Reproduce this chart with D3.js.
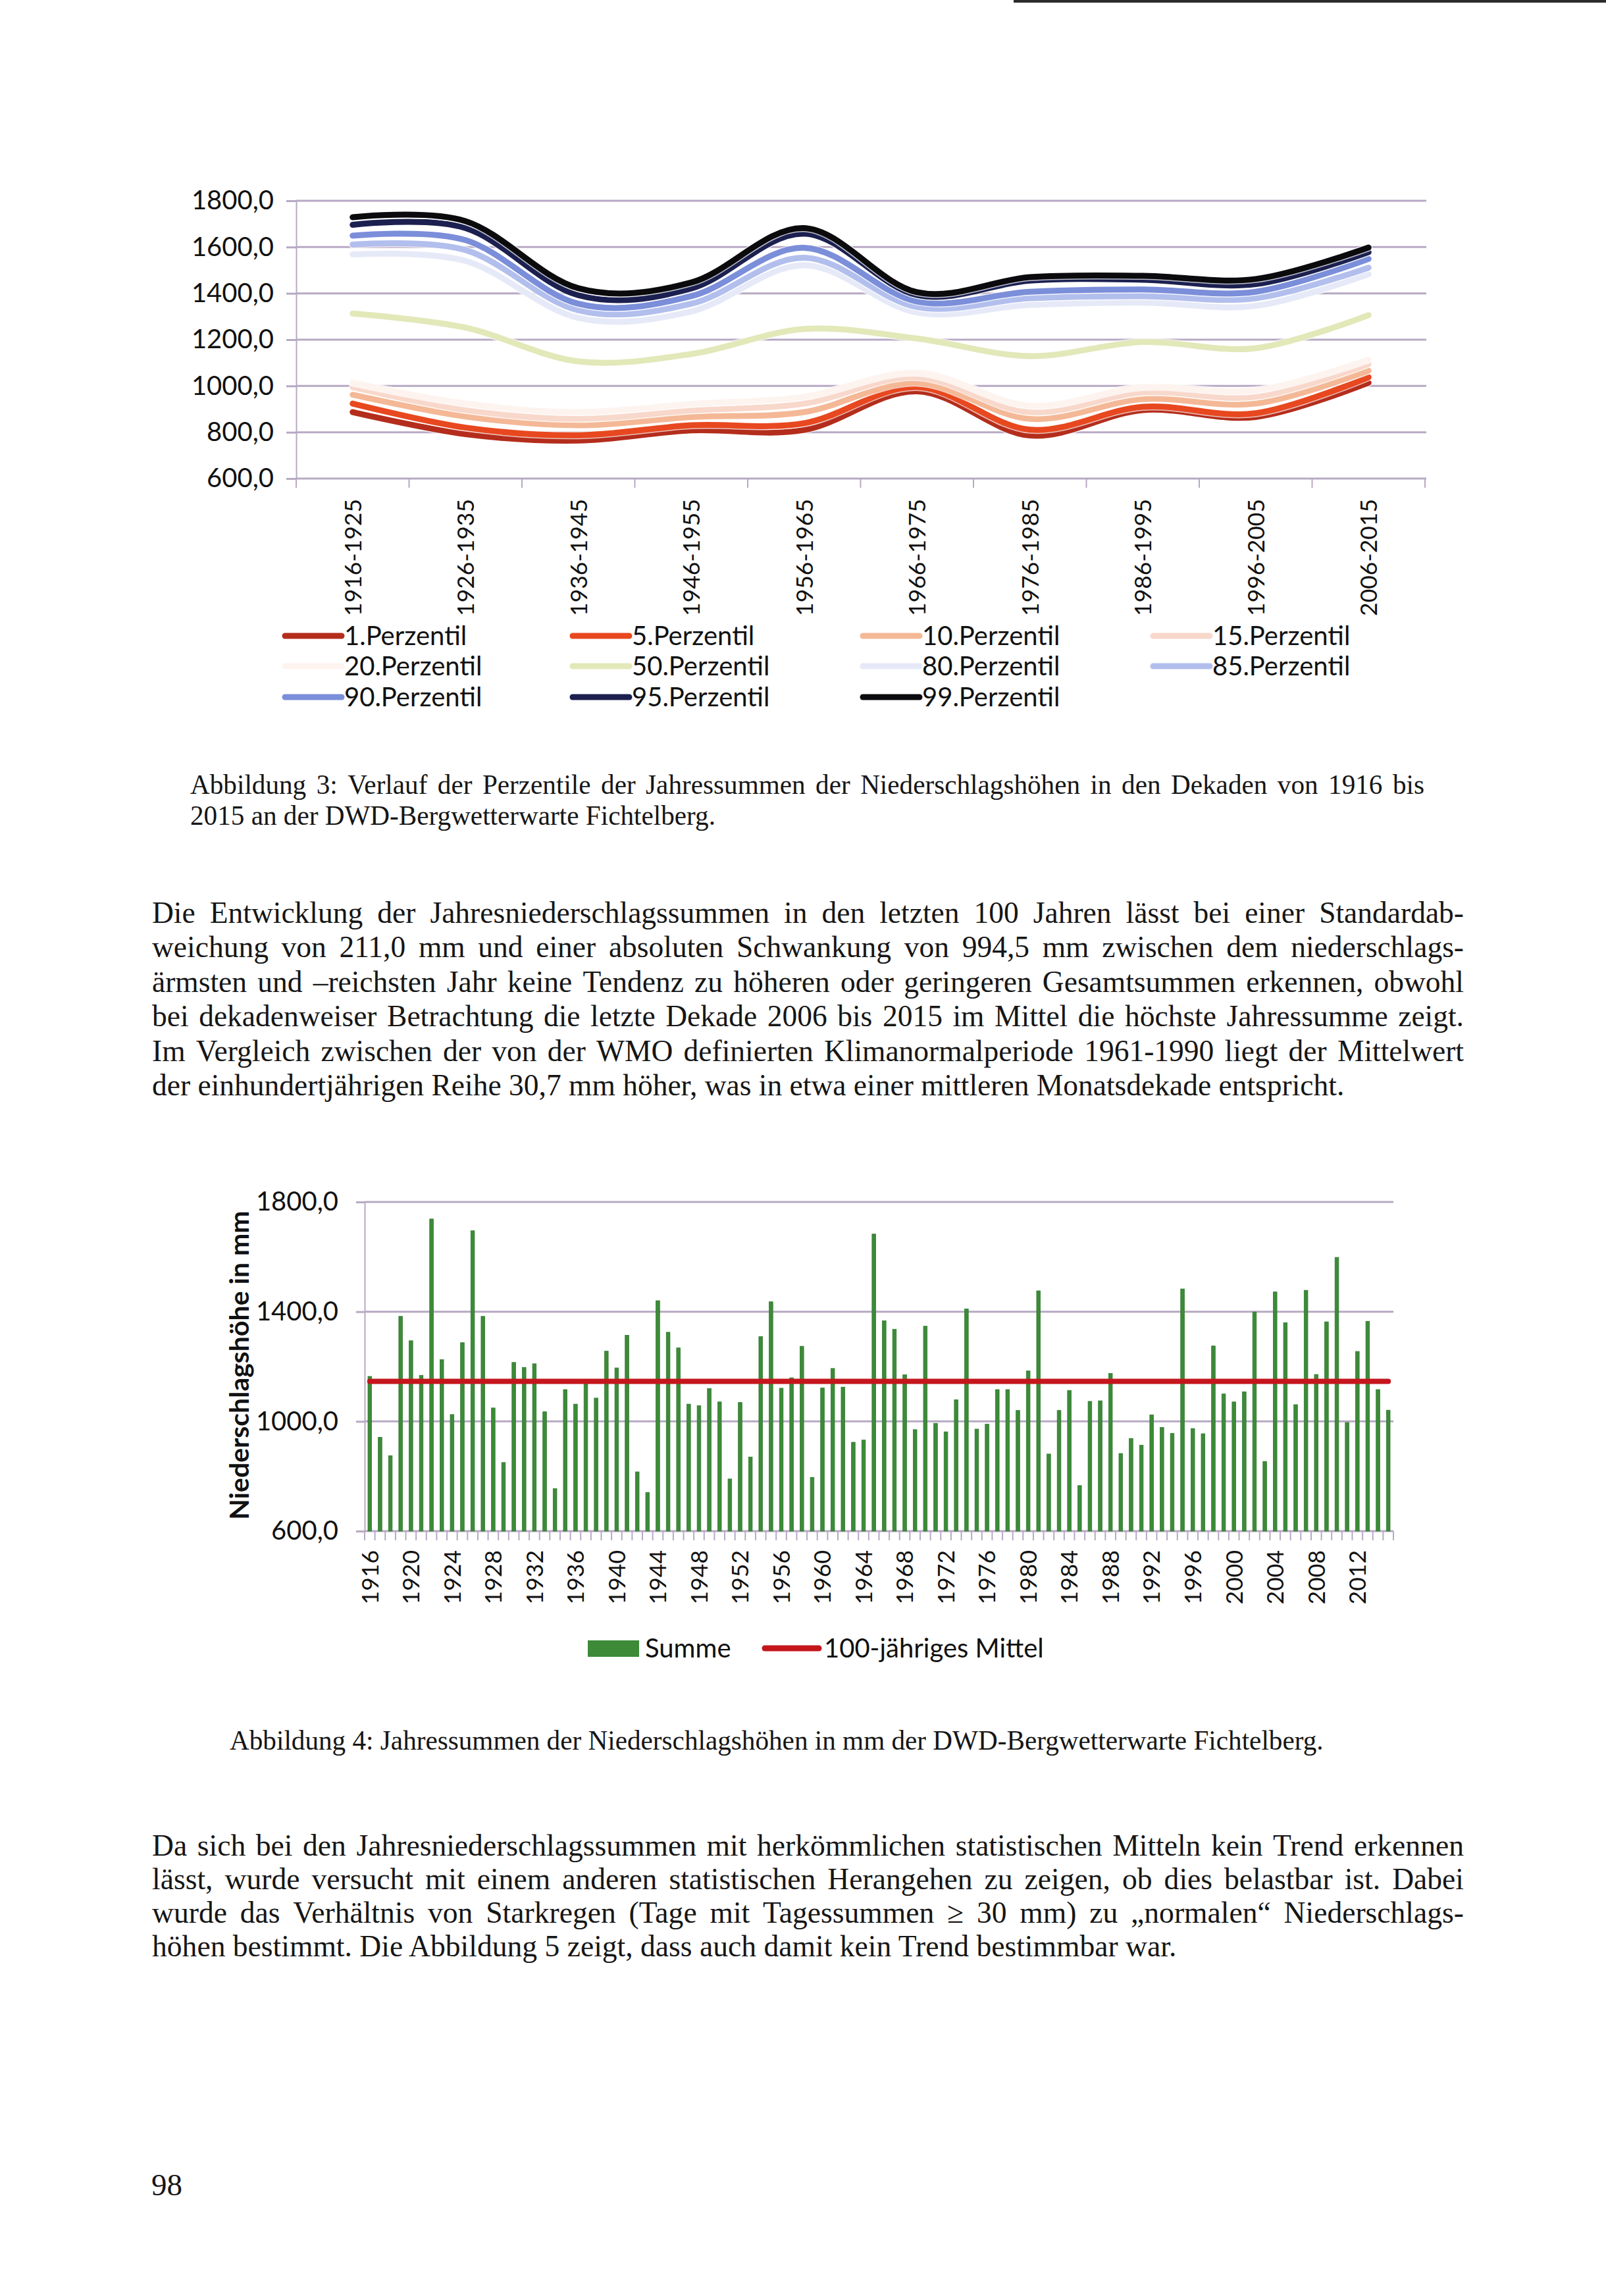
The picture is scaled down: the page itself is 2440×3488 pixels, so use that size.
<!DOCTYPE html>
<html><head><meta charset="utf-8">
<script src="https://cdn.jsdelivr.net/npm/d3@7"></script>
<style>
html,body{margin:0;padding:0;background:#fff;}
#page{position:relative;width:2440px;height:3488px;overflow:hidden;background:#fff;}
</style></head>
<body><div id="page"><svg id="c" width="2440" height="3488" style="position:absolute;left:0;top:0"></svg></div>
<script>
// ---------------- DATA ----------------
const decades = ["1916-1925","1926-1935","1936-1945","1946-1955","1956-1965","1966-1975","1976-1985","1986-1995","1996-2005","2006-2015"];
const p1  = [887, 792, 764, 808, 810, 977, 786, 896, 866, 1014];
const p5  = [924, 820, 787, 830, 839, 995, 811, 910, 882, 1038];
const p10 = [962, 868, 830, 866, 887, 1014, 858, 943, 924, 1066];
const p15 = [995, 896, 858, 894, 924, 1038, 887, 972, 953, 1095];
const p20 = [1014, 924, 887, 922, 953, 1057, 915, 995, 981, 1114];
const p50 = [1313, 1252, 1106, 1138, 1246, 1205, 1129, 1190, 1163, 1306];
const p80 = [1568, 1540, 1294, 1322, 1521, 1317, 1350, 1360, 1346, 1483];
const p85 = [1611, 1587, 1327, 1355, 1554, 1341, 1379, 1388, 1379, 1511];
const p90 = [1649, 1630, 1355, 1388, 1597, 1365, 1407, 1417, 1407, 1549];
const p95 = [1696, 1682, 1392, 1421, 1658, 1393, 1455, 1459, 1440, 1578];
const p99 = [1729, 1712, 1422, 1447, 1682, 1405, 1470, 1476, 1462, 1598];
const percentileNames = ["1.Perzentil","5.Perzentil","10.Perzentil","15.Perzentil","20.Perzentil","50.Perzentil","80.Perzentil","85.Perzentil","90.Perzentil","95.Perzentil","99.Perzentil"];
const chart1YTicks = [600, 800, 1000, 1200, 1400, 1600, 1800];

const years = [1916,1917,1918,1919,1920,1921,1922,1923,1924,1925,1926,1927,1928,1929,1930,1931,1932,1933,1934,1935,
1936,1937,1938,1939,1940,1941,1942,1943,1944,1945,1946,1947,1948,1949,1950,1951,1952,1953,1954,1955,
1956,1957,1958,1959,1960,1961,1962,1963,1964,1965,1966,1967,1968,1969,1970,1971,1972,1973,1974,1975,
1976,1977,1978,1979,1980,1981,1982,1983,1984,1985,1986,1987,1988,1989,1990,1991,1992,1993,1994,1995,
1996,1997,1998,1999,2000,2001,2002,2003,2004,2005,2006,2007,2008,2009,2010,2011,2012,2013,2014,2015];
const summe = [1164, 942, 875, 1383, 1294, 1168, 1738, 1225, 1025, 1287,
1695, 1383, 1049, 850, 1215, 1197, 1210, 1035, 755, 1116,
1063, 1144, 1085, 1256, 1195, 1314, 816, 741, 1440, 1325,
1268, 1063, 1057, 1120, 1071, 790, 1069, 870, 1309, 1436,
1121, 1159, 1274, 796, 1122, 1193, 1125, 924, 932, 1683,
1367, 1336, 1170, 970, 1347, 993, 962, 1079, 1410, 972,
990, 1116, 1116, 1040, 1184, 1476, 881, 1040, 1113, 766,
1073, 1075, 1175, 883, 938, 913, 1024, 978, 956, 1483,
974, 955, 1275, 1100, 1071, 1108, 1399, 854, 1472, 1360,
1061, 1478, 1171, 1363, 1598, 996, 1255, 1365, 1116, 1041];
const mittel100 = 1146;
const chart2YTicks = [600, 1000, 1400, 1800];
const chart2XLabels = [1916,1920,1924,1928,1932,1936,1940,1944,1948,1952,1956,1960,1964,1968,1972,1976,1980,1984,1988,1992,1996,2000,2004,2008,2012];

// ---------------- STYLE ----------------
const svg = d3.select("#c");
const gridColor = "#b7a9c3";
const chartFont = "Lato, 'Open Sans', sans-serif";
const serif = "'Liberation Serif','Times New Roman',serif";
const loc = d3.formatLocale({decimal: ",", thousands: ".", grouping: [3], currency: ["", "€"]});
const fmt = loc.format(".1f");
const pColors = ["#b42d1c","#e8481f","#f4b896","#f8d8cb","#fdf3ef","#e2e8b8","#e6e9f7","#b2bfed","#7b8ed9","#1b2050","#0b0b0e"];

// scan edge line at top
svg.append("line").attr("x1",1540).attr("x2",2440).attr("y1",2).attr("y2",2).attr("stroke","#2b2b2b").attr("stroke-width",4);

// ---------------- CHART 1 ----------------
const c1 = {l:450, r:2165, t:305, b:727};
const x1 = d3.scaleBand().domain(decades).range([c1.l, c1.r]);
const y1 = d3.scaleLinear().domain([600, 1800]).range([c1.b, c1.t]);
const g1 = svg.append("g");

g1.append("g").selectAll("line").data(chart1YTicks).join("line")
  .attr("x1", c1.l).attr("x2", c1.r + 2)
  .attr("y1", d => y1(d)).attr("y2", d => y1(d))
  .attr("stroke", gridColor).attr("stroke-width", 3);

const ax1 = g1.append("g").attr("transform", `translate(${c1.l},0)`)
  .call(d3.axisLeft(y1).tickValues(chart1YTicks).tickFormat(fmt).tickSize(15).tickSizeOuter(0).tickPadding(19));
ax1.select(".domain").attr("stroke", gridColor).attr("stroke-width", 2);
ax1.selectAll(".tick line").attr("stroke", gridColor).attr("stroke-width", 3);
ax1.selectAll(".tick text").attr("font-family", chartFont).attr("font-size", 40).attr("fill", "#111");

// category boundary ticks
const bounds1 = decades.map(d => x1(d)).concat([c1.r]);
g1.append("g").selectAll("line").data(bounds1).join("line")
  .attr("x1", d => d).attr("x2", d => d).attr("y1", c1.b).attr("y2", c1.b + 14)
  .attr("stroke", gridColor).attr("stroke-width", 2);

g1.append("g").selectAll("text").data(decades).join("text")
  .attr("transform", d => `translate(${x1(d) + x1.bandwidth()/2},758) rotate(-90)`)
  .attr("text-anchor", "end").attr("dy", "0.36em")
  .attr("font-family", chartFont).attr("font-size", 35.5).attr("fill", "#111")
  .text(d => d);

const pSeries = [p1, p5, p10, p15, p20, p50, p80, p85, p90, p95, p99];
const line1 = d3.line()
  .x((d, i) => x1(decades[i]) + x1.bandwidth()/2)
  .y(d => y1(d))
  .curve(d3.curveCardinal.tension(0));
const sg = g1.append("g").selectAll("g").data(pSeries).join("g");
sg.append("path").attr("d", d => line1(d)).attr("fill", "none")
  .attr("stroke", "#fff").attr("stroke-opacity", 0.7).attr("stroke-width", 12)
  .attr("stroke-linecap", "round").attr("stroke-linejoin", "round");
sg.append("path").attr("d", d => line1(d)).attr("fill", "none")
  .attr("stroke", (d, i) => pColors[i]).attr("stroke-width", 9)
  .attr("stroke-linecap", "round").attr("stroke-linejoin", "round");

// legend chart 1
const legX = [433, 870, 1311, 1752];
const legY = [966, 1012, 1059];
const lg1 = g1.append("g").selectAll("g").data(percentileNames).join("g")
  .attr("transform", (d, i) => `translate(${legX[i % 4]},${legY[Math.floor(i / 4)]})`);
lg1.append("line").attr("x1", 0).attr("x2", 86).attr("y1", 0).attr("y2", 0)
  .attr("stroke", (d, i) => pColors[i]).attr("stroke-width", 9).attr("stroke-linecap", "round");
lg1.append("text").attr("x", 90).attr("dy", "0.36em")
  .attr("font-family", chartFont).attr("font-size", 40).attr("fill", "#111").text(d => d);

// ---------------- CHART 2 ----------------
const c2 = {l:554, r:2117, t:1826, b:2326};
const x2 = d3.scaleBand().domain(years).range([c2.l, c2.r]).paddingInner(0.64).paddingOuter(0.32);
const y2 = d3.scaleLinear().domain([600, 1800]).range([c2.b, c2.t]);
const g2 = svg.append("g");

g2.append("g").selectAll("line").data(chart2YTicks).join("line")
  .attr("x1", c2.l).attr("x2", c2.r)
  .attr("y1", d => y2(d)).attr("y2", d => y2(d))
  .attr("stroke", gridColor).attr("stroke-width", 3);

const ax2 = g2.append("g").attr("transform", `translate(${c2.l},0)`)
  .call(d3.axisLeft(y2).tickValues(chart2YTicks).tickFormat(fmt).tickSize(13).tickSizeOuter(0).tickPadding(27));
ax2.select(".domain").attr("stroke", gridColor).attr("stroke-width", 2);
ax2.selectAll(".tick line").attr("stroke", gridColor).attr("stroke-width", 3);
ax2.selectAll(".tick text").attr("font-family", chartFont).attr("font-size", 40).attr("fill", "#111");

// per-year ticks
const step2 = x2.step();
const bounds2 = years.map(d => x2(d) - (step2 - x2.bandwidth())/2).concat([c2.r]);
g2.append("g").selectAll("line").data(bounds2).join("line")
  .attr("x1", d => d).attr("x2", d => d).attr("y1", c2.b).attr("y2", c2.b + 14)
  .attr("stroke", gridColor).attr("stroke-width", 2);

g2.append("g").selectAll("rect").data(summe).join("rect")
  .attr("x", (d, i) => x2(years[i])).attr("width", x2.bandwidth())
  .attr("y", d => y2(d)).attr("height", d => c2.b - y2(d))
  .attr("fill", "#3d8a39").attr("stroke", "#2f7a2e").attr("stroke-width", 0.8);

g2.append("line")
  .attr("x1", x2(years[0]) + x2.bandwidth()/2).attr("x2", x2(years[years.length-1]) + x2.bandwidth()/2)
  .attr("y1", y2(mittel100)).attr("y2", y2(mittel100))
  .attr("stroke", "#c4161c").attr("stroke-width", 8).attr("stroke-linecap", "round");

g2.append("g").selectAll("text").data(chart2XLabels).join("text")
  .attr("transform", d => `translate(${x2(d) + x2.bandwidth()/2},2355) rotate(-90)`)
  .attr("text-anchor", "end").attr("dy", "0.36em")
  .attr("font-family", chartFont).attr("font-size", 35.5).attr("fill", "#111")
  .text(d => d);

g2.append("text").attr("transform", "translate(363,2074) rotate(-90)")
  .attr("text-anchor", "middle").attr("dy", "0.36em")
  .attr("font-family", chartFont).attr("font-weight", "bold").attr("font-size", 41).attr("fill", "#111")
  .text("Niederschlagshöhe in mm");

// legend chart 2
g2.append("rect").attr("x", 893).attr("y", 2492).attr("width", 78).attr("height", 25).attr("fill", "#3d8a39");
g2.append("text").attr("x", 980).attr("y", 2504).attr("dy", "0.36em")
  .attr("font-family", chartFont).attr("font-size", 40).attr("fill", "#111").text("Summe");
g2.append("line").attr("x1", 1162).attr("x2", 1244).attr("y1", 2504).attr("y2", 2504)
  .attr("stroke", "#c4161c").attr("stroke-width", 9).attr("stroke-linecap", "round");
g2.append("text").attr("x", 1252).attr("y", 2504).attr("dy", "0.36em")
  .attr("font-family", chartFont).attr("font-size", 40).attr("fill", "#111").text("100-jähriges Mittel");

// ---------------- TEXT ----------------
function block(lines, x0, width, y0, step, size) {
  lines.forEach((ln, i) => {
    const y = y0 + i * step;
    const t = svg.append("text").attr("font-family", serif).attr("font-size", size)
      .attr("y", y).attr("fill", "#161616");
    if (!ln.j) { t.attr("x", x0).text(ln.t); return; }
    const words = ln.t.split(" ").filter(w => w.length);
    const spans = words.map(w => t.append("tspan").text(w));
    const widths = spans.map(s => s.node().getComputedTextLength());
    const gap = (width - d3.sum(widths)) / (words.length - 1);
    let x = x0;
    spans.forEach((s, k) => { s.attr("x", x); x += widths[k] + gap; });
  });
}

block([
  {t: "Abbildung 3: Verlauf der Perzentile der Jahressummen der Niederschlagshöhen in den Dekaden von 1916 bis", j: true},
  {t: "2015 an der DWD-Bergwetterwarte Fichtelberg.", j: false}
], 289, 1875, 1206, 47, 41.2);

block([
  {t: "Die Entwicklung der Jahresniederschlagssummen in den letzten 100 Jahren lässt bei einer Standardab-", j: true},
  {t: "weichung von 211,0 mm und einer absoluten Schwankung von 994,5 mm zwischen dem niederschlags-", j: true},
  {t: "ärmsten und –reichsten Jahr keine Tendenz zu höheren oder geringeren Gesamtsummen erkennen, obwohl", j: true},
  {t: "bei dekadenweiser Betrachtung die letzte Dekade 2006 bis 2015 im Mittel die höchste Jahressumme zeigt.", j: true},
  {t: "Im Vergleich zwischen der von der WMO definierten Klimanormalperiode 1961-1990 liegt der Mittelwert", j: true},
  {t: "der einhundertjährigen Reihe 30,7 mm höher, was in etwa einer mittleren Monatsdekade entspricht.", j: false}
], 231, 1993, 1402, 52.4, 45.5);

block([
  {t: "Abbildung 4: Jahressummen der Niederschlagshöhen in mm der DWD-Bergwetterwarte Fichtelberg.", j: false}
], 349, 1660, 2658, 47, 41.2);

block([
  {t: "Da sich bei den Jahresniederschlagssummen mit herkömmlichen statistischen Mitteln kein Trend erkennen", j: true},
  {t: "lässt, wurde versucht mit einem anderen statistischen Herangehen zu zeigen, ob dies belastbar ist. Dabei", j: true},
  {t: "wurde das Verhältnis von Starkregen  (Tage mit Tagessummen ≥ 30 mm) zu „normalen“ Niederschlags-", j: true},
  {t: "höhen bestimmt. Die Abbildung 5 zeigt, dass auch damit kein Trend bestimmbar war.", j: false}
], 231, 1993, 2819, 51, 45.6);

svg.append("text").attr("x", 230).attr("y", 3335).attr("font-family", serif).attr("font-size", 47)
  .attr("fill", "#161616").text("98");
</script>
</body></html>
